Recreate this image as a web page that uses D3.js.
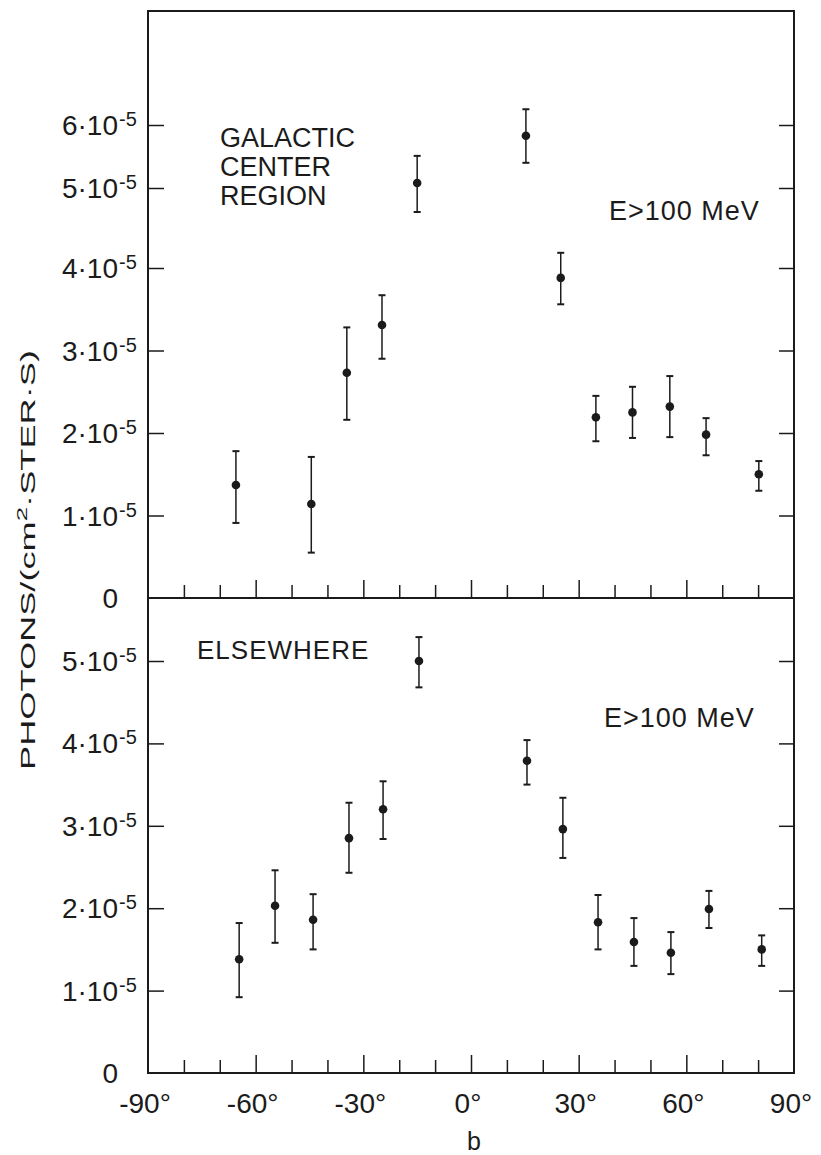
<!DOCTYPE html>
<html>
<head>
<meta charset="utf-8">
<script src="https://cdn.jsdelivr.net/npm/d3@7"></script>
<style>
  body { margin: 0; background: #fff; }
  text { font-family: "Liberation Sans", Arial, sans-serif; fill: #1b1b1b; }
</style>
</head>
<body>
<div id="chart"></div>
<script>
// values in units of 10^-5 photons/(cm2 ster s)
const topLat  = [-65.5, -44.5, -34.6, -24.8, -15, 15.3, 25, 34.8, 45, 55.4, 65.5, 80.2];
const topFlux = [1.37, 1.14, 2.73, 3.31, 5.08, 5.83, 3.88, 2.19, 2.25, 2.32, 1.98, 1.50];
const topLow  = [0.91, 0.55, 2.16, 2.90, 4.70, 5.40, 3.56, 1.90, 1.94, 1.95, 1.73, 1.30];
const topHigh = [1.78, 1.71, 3.28, 3.67, 5.51, 6.25, 4.19, 2.45, 2.56, 2.69, 2.18, 1.66];

const botLat  = [-64.6, -54.6, -44, -34, -24.5, -14.5, 15.6, 25.6, 35.4, 45.4, 55.7, 66.3, 81];
const botFlux = [1.38, 2.03, 1.86, 2.85, 3.20, 5.00, 3.79, 2.96, 1.83, 1.59, 1.46, 1.99, 1.50];
const botLow  = [0.92, 1.58, 1.50, 2.43, 2.84, 4.68, 3.50, 2.61, 1.50, 1.30, 1.20, 1.76, 1.30];
const botHigh = [1.82, 2.46, 2.17, 3.28, 3.54, 5.29, 4.04, 3.34, 2.16, 1.88, 1.71, 2.21, 1.67];

const topTicks = [1, 2, 3, 4, 5, 6];
const botTicks = [1, 2, 3, 4, 5];
const xMajor = [-90, -60, -30, 0, 30, 60, 90];
const xMinor = [-80, -70, -50, -40, -20, -10, 10, 20, 40, 50, 70, 80];

const W = 821, H = 1155;
const fLeft = 148, fRight = 794, fTop = 11, fMid = 598, fBottom = 1073;
const ink = "#1b1b1b";

const svg = d3.select("#chart").append("svg")
    .attr("width", W).attr("height", H);

const x = d3.scaleLinear().domain([-90, 90]).range([fLeft, fRight]);
// the printed upper axis is slightly compressed above 4e-5
const yTop = d3.scaleLinear().domain([0, 4, 5, 6]).range([fMid, 268, 188, 125]);
const yBot = d3.scaleLinear().domain([0, 5]).range([fBottom, 661]);

// frame
svg.append("rect")
    .attr("x", fLeft).attr("y", fTop)
    .attr("width", fRight - fLeft).attr("height", fBottom - fTop)
    .attr("fill", "none").attr("stroke", ink).attr("stroke-width", 2);
svg.append("line")
    .attr("x1", fLeft).attr("x2", fRight).attr("y1", fMid).attr("y2", fMid)
    .attr("stroke", ink).attr("stroke-width", 2);

function styleAxis(g) {
    g.select(".domain").remove();
    g.selectAll(".tick line").attr("stroke", ink).attr("stroke-width", 1.5);
    g.selectAll(".tick text").remove();
}

function drawPanel(y, ticks, lat, flux, low, high, base) {
    svg.append("g").attr("transform", `translate(${fLeft},0)`)
        .call(d3.axisRight(y).tickValues(ticks).tickSize(16)).call(styleAxis);
    svg.append("g").attr("transform", `translate(${fRight},0)`)
        .call(d3.axisLeft(y).tickValues(ticks).tickSize(15)).call(styleAxis);
    svg.append("g").attr("transform", `translate(0,${base})`)
        .call(d3.axisTop(x).tickValues(xMajor.slice(1, -1)).tickSize(18)).call(styleAxis);
    svg.append("g").attr("transform", `translate(0,${base})`)
        .call(d3.axisTop(x).tickValues(xMinor).tickSize(13)).call(styleAxis);

    // tick labels  n·10^-5
    ticks.forEach(t => {
        svg.append("text")
            .attr("x", 118).attr("y", y(t) + 10)
            .attr("text-anchor", "end").attr("font-size", 28)
            .text(t + "\u00b710");
        svg.append("text")
            .attr("x", 119).attr("y", y(t) + 1)
            .attr("font-size", 20)
            .text("-5");
    });
    svg.append("text")
        .attr("x", 118).attr("y", y(0) + 10)
        .attr("text-anchor", "end").attr("font-size", 28)
        .text("0");

    const pts = lat.map((b, i) => ({ b: b, v: flux[i], lo: low[i], hi: high[i] }));
    const g = svg.append("g");
    g.selectAll(".err").data(pts).enter().append("line")
        .attr("x1", d => x(d.b)).attr("x2", d => x(d.b))
        .attr("y1", d => y(d.lo)).attr("y2", d => y(d.hi))
        .attr("stroke", ink).attr("stroke-width", 1.5);
    ["lo", "hi"].forEach(k => {
        g.selectAll(".cap-" + k).data(pts).enter().append("line")
            .attr("x1", d => x(d.b) - 3.5).attr("x2", d => x(d.b) + 3.5)
            .attr("y1", d => y(d[k])).attr("y2", d => y(d[k]))
            .attr("stroke", ink).attr("stroke-width", 2);
    });
    g.selectAll("circle").data(pts).enter().append("circle")
        .attr("cx", d => x(d.b)).attr("cy", d => y(d.v))
        .attr("r", 4.3).attr("fill", ink);
}

drawPanel(yTop, topTicks, topLat, topFlux, topLow, topHigh, fMid);
drawPanel(yBot, botTicks, botLat, botFlux, botLow, botHigh, fBottom);

// x tick labels
xMajor.forEach(v => {
    svg.append("text")
        .attr("x", x(v) - 3).attr("y", 1113)
        .attr("text-anchor", "middle").attr("font-size", 28)
        .text(v + "\u00b0");
});
svg.append("text")
    .attr("x", 474).attr("y", 1150)
    .attr("text-anchor", "middle").attr("font-size", 25)
    .text("b");

// panel annotations
const lines = ["GALACTIC", "CENTER", "REGION"];
lines.forEach((s, i) => {
    svg.append("text")
        .attr("x", 220).attr("y", 147 + i * 29)
        .attr("font-size", 27).text(s);
});
svg.append("text").attr("x", 609).attr("y", 220)
    .attr("font-size", 27).attr("letter-spacing", 1).text("E>100 MeV");
svg.append("text").attr("x", 197).attr("y", 659)
    .attr("font-size", 26).attr("letter-spacing", 1).text("ELSEWHERE");
svg.append("text").attr("x", 604).attr("y", 727)
    .attr("font-size", 27).attr("letter-spacing", 1).text("E>100 MeV");

// y axis title
const yt = svg.append("text")
    .attr("transform", "translate(35,560) rotate(-90)")
    .attr("text-anchor", "middle").attr("font-size", 21)
    .attr("textLength", 420).attr("lengthAdjust", "spacingAndGlyphs");
yt.append("tspan").text("PHOTONS/(cm");
yt.append("tspan").attr("dy", -8).attr("font-size", 15).text("2");
yt.append("tspan").attr("dy", 8).text("\u00b7STER\u00b7S)");
</script>
</body>
</html>
